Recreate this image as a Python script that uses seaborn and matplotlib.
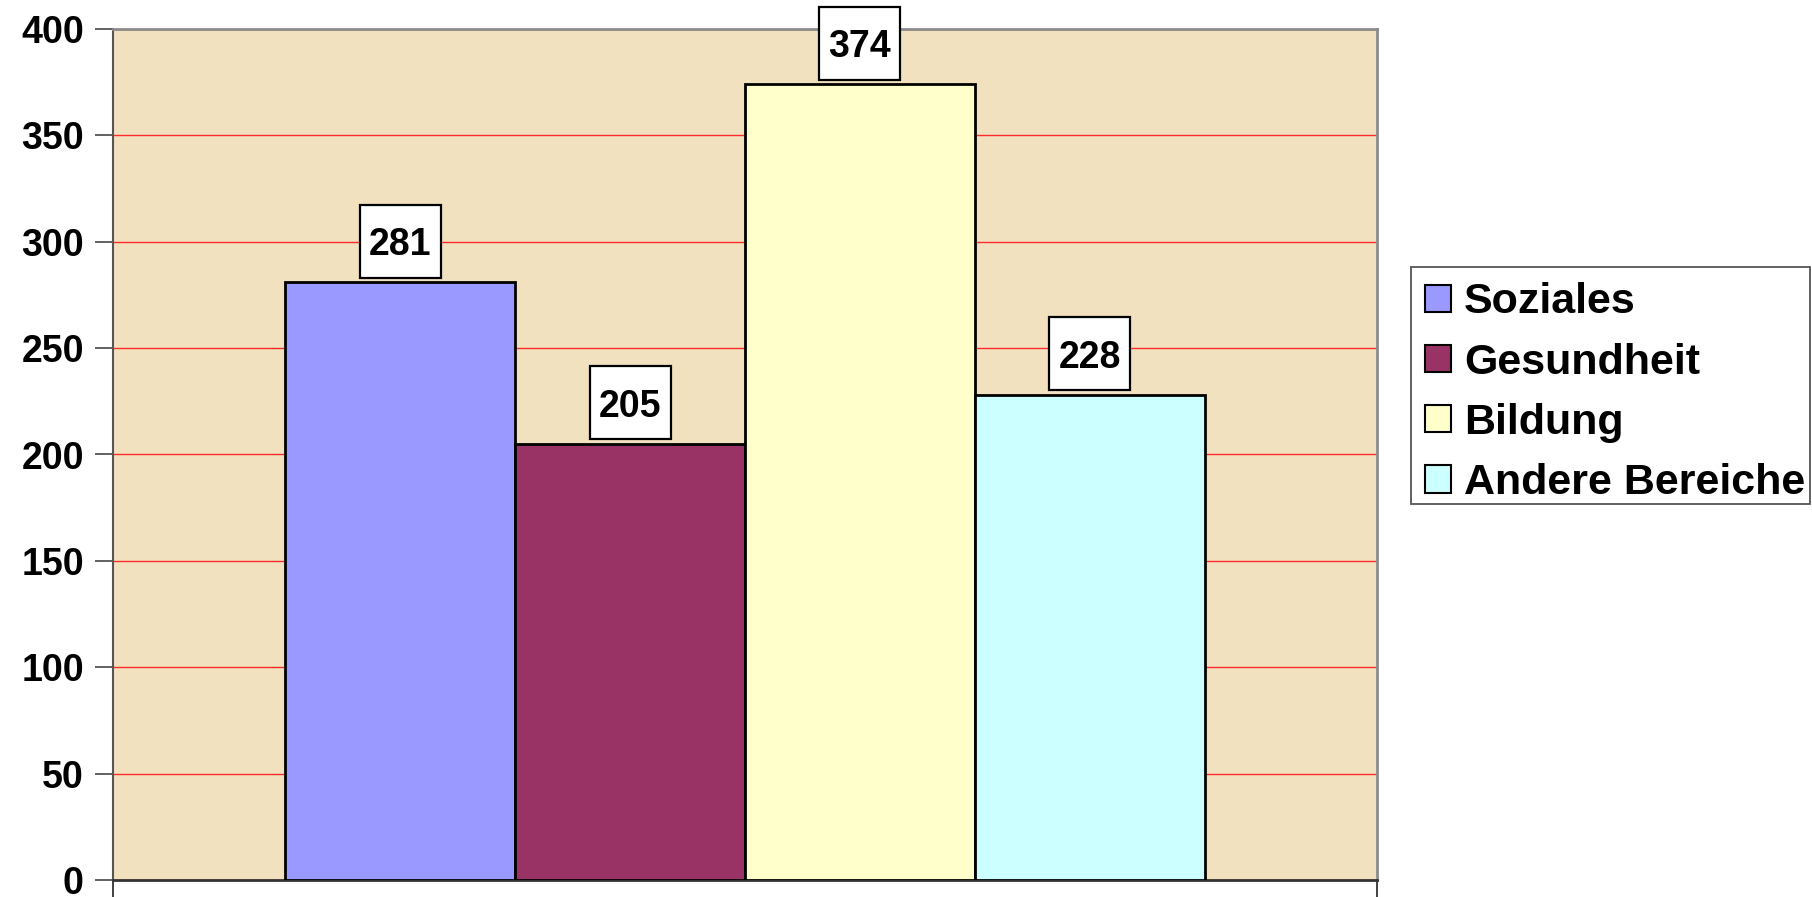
import matplotlib
matplotlib.use("Agg")
import matplotlib.pyplot as plt
import matplotlib.transforms as mtransforms
from matplotlib.patches import Patch, Rectangle
import seaborn as sns
import pandas as pd

categories = ["Soziales", "Gesundheit", "Bildung", "Andere Bereiche"]
values = [281, 205, 374, 228]
colors = ["#9999FF", "#993366", "#FFFFCC", "#CCFFFF"]
yticks = [0, 50, 100, 150, 200, 250, 300, 350, 400]

sns.set_style("white")
plt.rcParams["font.family"] = ["Liberation Sans", "DejaVu Sans"]
plt.rcParams["font.weight"] = "bold"
plt.rcParams["text.color"] = "black"
plt.rcParams["xtick.color"] = "black"
plt.rcParams["ytick.color"] = "black"
plt.rcParams["xtick.labelcolor"] = "black"
plt.rcParams["ytick.labelcolor"] = "black"

fig = plt.figure(figsize=(18.12, 8.97), dpi=100)
ax = fig.add_axes([113/1812, 1-880/897, (1377-113)/1812, (880-29)/897])
ax.set_facecolor("#F1E1BF")

df = pd.DataFrame({"cat": categories, "val": values})
sns.barplot(data=df, x="cat", y="val", hue="cat", palette=colors,
            saturation=1, width=1.0, dodge=False, edgecolor="black",
            linewidth=2, legend=False, ax=ax, zorder=3)

ax.set_xlim(-1.248, 4.248)
ax.set_ylim(0, 400)
ax.set_yticks(yticks)
ax.set_yticklabels([str(t) for t in yticks], fontsize=27, fontweight="bold", color="black")
ax.set_xticks([-1.248, 4.248])
ax.set_xticklabels(["", ""])
ax.set_xlabel("")
ax.set_ylabel("")
ax.tick_params(axis="y", direction="out", length=13, width=1.3, color="#555555", pad=8, left=True)
ax.tick_params(axis="x", direction="out", length=13, width=1.3, color="#333333", bottom=True)
ax.grid(axis="y", color="#FF2A2A", linewidth=1.0, zorder=1)
ax.grid(axis="x", visible=False)
ax.set_axisbelow(True)
for s in ["top", "right"]:
    ax.spines[s].set_color("#8C8C8C")
    ax.spines[s].set_linewidth(2)
ax.spines["left"].set_color("#555555")
ax.spines["left"].set_linewidth(1.5)
ax.spines["bottom"].set_color("#333333")
ax.spines["bottom"].set_linewidth(2)

# value labels in white boxes (box sized in inches, anchored at bar top)
for i, v in enumerate(values):
    trans = fig.dpi_scale_trans + mtransforms.ScaledTranslation(i, v, ax.transData)
    box = Rectangle((-0.405, 0.045), 0.81, 0.73, transform=trans,
                    facecolor="white", edgecolor="black", linewidth=1.6,
                    zorder=5, clip_on=False)
    ax.add_patch(box)
    ax.annotate(str(v), xy=(i, v), xytext=(0, 0.41 * 72), textcoords="offset points",
                ha="center", va="center_baseline", fontsize=27, fontweight="bold",
                color="black", zorder=6, annotation_clip=False)

# legend frame drawn separately, entries placed inside
frame = Rectangle((1411/1812, 1-504/897), 399/1812, 237/897, transform=fig.transFigure,
                  facecolor="white", edgecolor="#555555", linewidth=1.3, zorder=0)
fig.patches.append(frame)

handles = [Patch(facecolor=c, edgecolor="black", linewidth=1.5) for c in colors]
leg = fig.legend(handles, categories, loc="upper left",
                 bbox_to_anchor=(1416/1812, 1-273/897),
                 prop=dict(size=31, weight="bold"),
                 frameon=False,
                 handlelength=0.6, handleheight=0.6, handletextpad=0.3,
                 borderpad=0.22, labelspacing=0.47, borderaxespad=0)
for t in leg.get_texts():
    t.set_color("black")

fig.savefig("out.png", dpi=100)
